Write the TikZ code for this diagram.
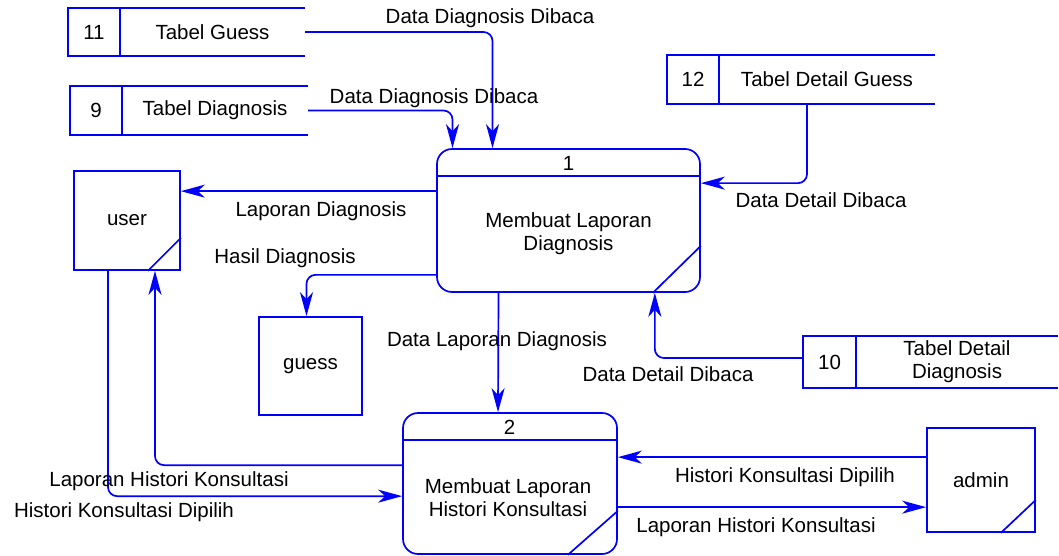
\documentclass[tikz,border=0pt]{standalone}
\usepackage{fontspec}
\setmainfont{Liberation Sans}
\usetikzlibrary{arrows.meta}

\begin{document}
\begin{tikzpicture}[x=1pt,y=-1pt,
    every node/.style={font=\fontsize{20.5}{23}\selectfont,text=black},
    dfd/.style={draw=blue,line width=1.7pt},
    flow/.style={draw=blue,line width=1.7pt,rounded corners=9pt,-{Stealth[length=24pt,width=13pt,inset=7pt]}},
    proc/.style={dfd,rounded corners=15pt,inner sep=0pt},
    ent/.style={dfd,inner sep=0pt},
    sid/.style={minimum width=52pt,inner sep=0pt},
    sname/.style={inner sep=0pt,align=center}]
    \useasboundingbox (0,0) rectangle (1059,556);

    \node[sid,minimum height=48pt] (id11) at (94,32) {11};
    \node[sname,minimum width=185pt,minimum height=48pt] (st11) at (212.5,32) {Tabel Guess};
    \node[sid,minimum height=49pt] (id9) at (96,110.5) {9};
    \node[sname,minimum width=186pt,minimum height=49pt] (st9) at (215,110.5) {Tabel Diagnosis};
    \node[sid,minimum height=49pt] (id12) at (693,79.5) {12};
    \node[sname,minimum width=216pt,minimum height=49pt] (st12) at (827,79.5) {Tabel Detail Guess};
    \node[sid,minimum width=53pt,minimum height=52pt] (id10) at (829.5,362) {10};
    \node[sname,minimum width=202pt,minimum height=52pt] (st10) at (957,362) {Tabel Detail\\Diagnosis};
    \foreach \n in {11,9,12,10}
      \draw[dfd] (st\n.north east) -- (id\n.north west) -- (id\n.south west) -- (st\n.south east)
                 (id\n.north east) -- (id\n.south east);

    \node[proc,minimum width=263pt,minimum height=143pt] (p1) at (568.5,220.5) {};
    \node (p1id) at (568.5,163) {1};
    \node[align=center] (p1txt) at (568.5,234) {Membuat Laporan\\Diagnosis};
    \draw[dfd] ([yshift=-28pt]p1.north west) -- ([yshift=-28pt]p1.north east);
    \draw[dfd] ([xshift=-48pt]p1.south east) -- ([yshift=47pt]p1.south east);

    \node[proc,minimum width=214pt,minimum height=141pt] (p2) at (510,483.5) {};
    \node (p2id) at (509.5,427) {2};
    \node[align=center] (p2txt) at (508,498) {Membuat Laporan\\Histori Konsultasi};
    \draw[dfd] ([yshift=-28pt]p2.north west) -- ([yshift=-28pt]p2.north east);
    \draw[dfd] ([xshift=-50pt]p2.south east) -- ([yshift=44pt]p2.south east);

    \node[ent,minimum width=106pt,minimum height=99pt] (user) at (127,220.5) {user};
    \draw[dfd] ([xshift=-33pt]user.south east) -- ([yshift=33pt]user.south east);
    \node[ent,minimum width=103pt,minimum height=98pt] (guess) at (310.5,366) {guess};
    \node[ent,minimum width=108pt,minimum height=104pt] (admin) at (981,480) {admin};
    \draw[dfd] ([xshift=-35pt]admin.south east) -- ([yshift=33pt]admin.south east);

    \draw[flow] (st11.east) -| ([xshift=-76pt]p1.north);
    \draw[flow] (st9.east) -| ([xshift=-116pt]p1.north);
    \draw[flow] ([xshift=-20pt]st12.south) |- ([yshift=-35pt]p1.north east);
    \draw[flow] ([yshift=-43pt]p1.north west) -- ([yshift=-21pt]user.north east);
    \draw[flow] ([yshift=18pt]p1.south west) -| ([xshift=-4pt]guess.north);
    \draw[flow] ([xshift=-70pt]p1.south) -- ([xshift=-12pt]p2.north);
    \draw[flow] ([yshift=4pt]id10.west) -| ([xshift=-46pt]p1.south east);
    \draw[flow] ([yshift=-53pt]p2.north west) -| ([xshift=28pt]user.south);
    \draw[flow] ([xshift=-19pt]user.south) |- ([yshift=-84pt]p2.north west);
    \draw[flow] ([yshift=-30pt]admin.north west) -- ([yshift=-45pt]p2.north east);
    \draw[flow] ([yshift=-95pt]p2.north east) -- ([yshift=-80pt]admin.north west);

    \node (lb1) at (490,18) {Data Diagnosis Dibaca};
    \node (lb2) at (434,98) {Data Diagnosis Dibaca};
    \node (lb3) at (821,200) {Data Detail Dibaca};
    \node (lb4) at (321,211) {Laporan Diagnosis};
    \node (lb5) at (285,258) {Hasil Diagnosis};
    \node (lb6) at (497,341) {Data Laporan Diagnosis};
    \node (lb7) at (668,374) {Data Detail Dibaca};
    \node (lb8) at (169,481) {Laporan Histori Konsultasi};
    \node (lb9) at (124,512) {Histori Konsultasi Dipilih};
    \node (lb10) at (785,477) {Histori Konsultasi Dipilih};
    \node (lb11) at (756,527) {Laporan Histori Konsultasi};
\end{tikzpicture}
\end{document}
